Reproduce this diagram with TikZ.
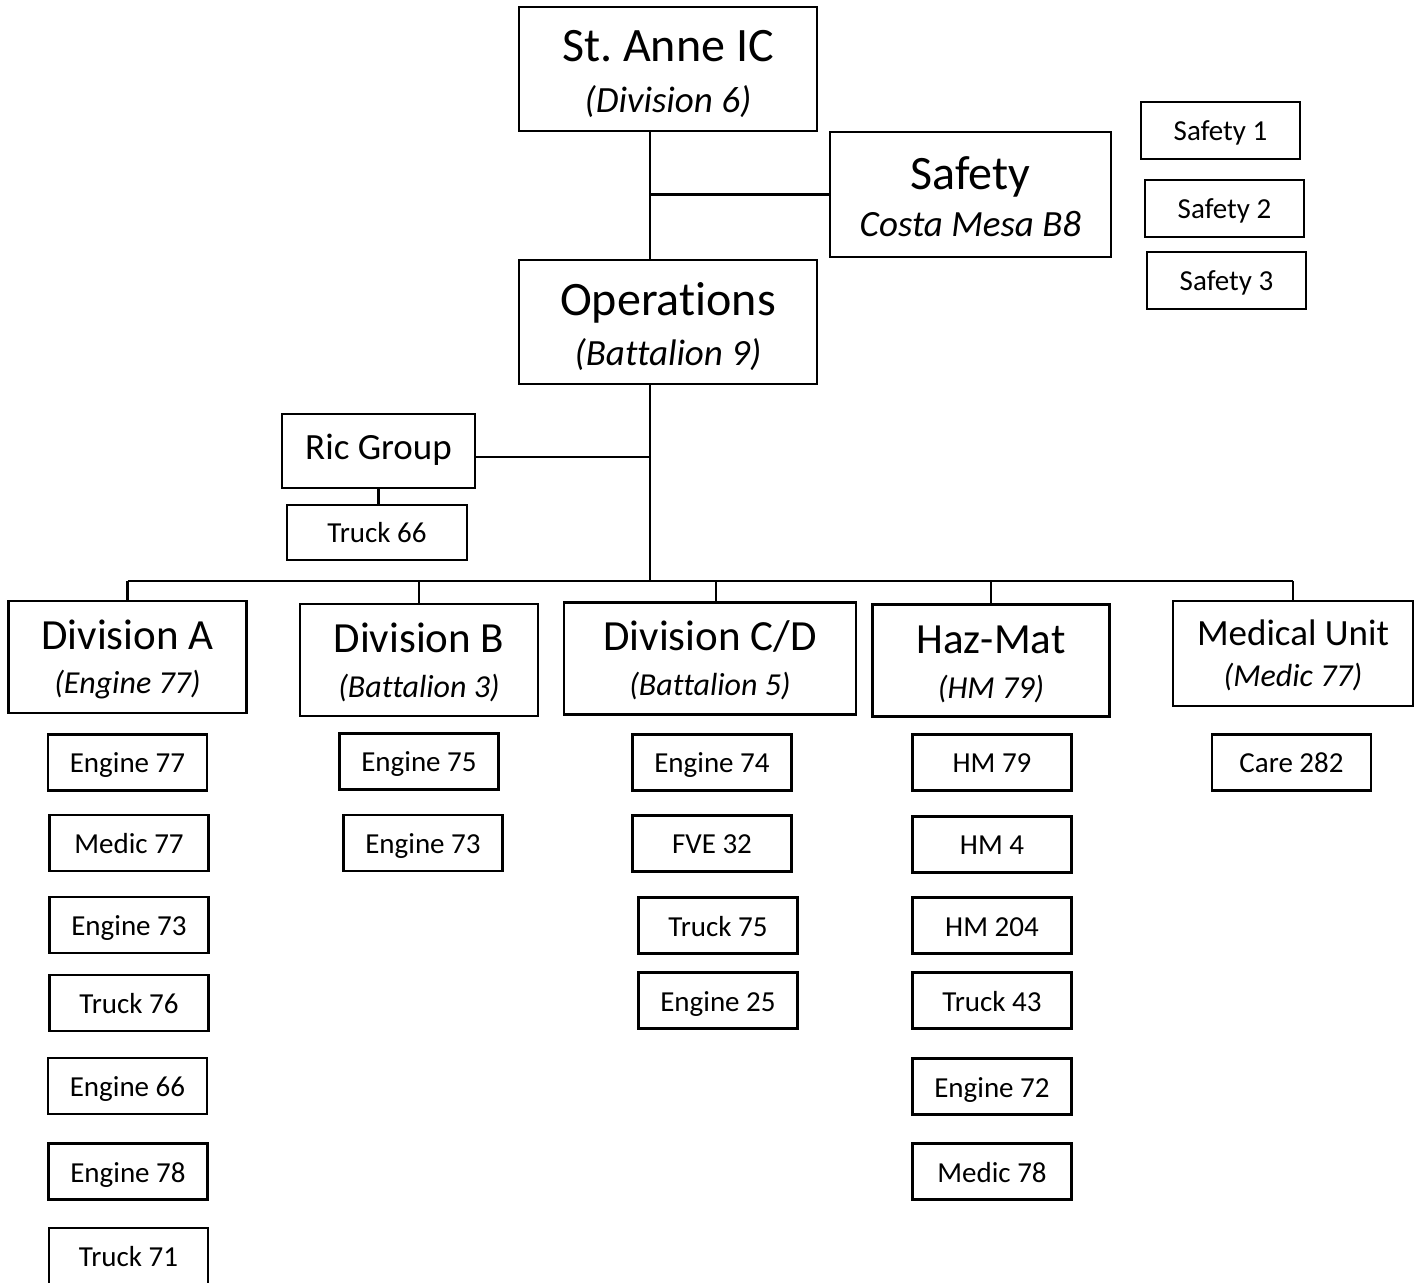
\documentclass[tikz,border=0pt]{standalone}
\usepackage{fontspec}
\setmainfont{Carlito}[Ligatures=NoCommon]
\usetikzlibrary{calc}
\frenchspacing
\newcommand\ztitle{\fontsize{24}{24}\selectfont}
\newcommand\zhead{\fontsize{21.5}{21.5}\selectfont}
\newcommand\zmedhead{\fontsize{18.5}{18.5}\selectfont}
\tikzset{zbox/.style={
  draw=black,
  line width=1.1pt,
  rectangle,
  inner sep=0pt,
  align=center}}
\tikzset{ztop/.style={
  zbox,
  minimum width=149pt,
  minimum height=62pt,
  font=\fontsize{18.5}{25.5}\selectfont,
  text height=43.5pt,
  text depth=0pt}}
\tikzset{zdiv/.style={
  zbox,
  minimum width=119pt,
  minimum height=56pt,
  font=\fontsize{16}{22.5}\selectfont,
  text height=37.5pt,
  text depth=0pt}}
\tikzset{zunit/.style={
  zbox,
  minimum width=79.5pt,
  minimum height=28pt,
  font=\fontsize{14.5}{17}\selectfont,
  text height=13.5pt,
  text depth=3pt}}
\tikzset{zline/.style={
  line width=1.1pt}}

\begin{document}
\begin{tikzpicture}
  \begin{scope}[x=0.5pt,y=-0.5pt]
    \useasboundingbox (0,0) rectangle (1421,1283);

    %% Command staff
    \node[ztop] (ic) at (668,69) {{\ztitle St. Anne IC}\\\itshape (Division 6)};
    \node[ztop,minimum width=140.5pt,minimum height=62.5pt,text height=42.5pt,
      font=\fontsize{18.5}{23.5}\selectfont] (safety) at (970.5,194.5)
      {{\ztitle Safety}\\\itshape Costa Mesa B8};
    \node[ztop,font=\fontsize{18.5}{25}\selectfont] (ops) at (668,322)
      {{\ztitle Operations}\\\itshape (Battalion 9)};

    %% Safety officers
    \node[zunit,minimum height=28.5pt] (s-1) at (1220.5,130.5) {Safety 1};
    \node[zunit,minimum height=28.5pt] (s-2) at (1224.5,208.5) {Safety 2};
    \node[zunit,minimum height=28.5pt] (s-3) at (1226.5,280.5) {Safety 3};

    %% Rapid intervention
    \node[zbox,minimum width=96.5pt,minimum height=37pt,
      font=\fontsize{18.5}{18.5}\selectfont,
      text height=14pt,text depth=5pt] (ric) at (378.5,451) {Ric Group};
    \node[zunit,minimum width=90pt,minimum height=27.5pt] (truck66) at (377,532.5) {Truck 66};

    %% Divisions and groups
    \node[zdiv,text height=37pt,font=\fontsize{16}{22}\selectfont] (diva) at (127.5,657)
      {{\zhead Division A}\\\itshape (Engine 77)};
    \node[zdiv,text height=38pt] (divb) at (419,660) {{\zhead Division B}\\\itshape (Battalion 3)};
    \node[zdiv,minimum width=146pt] (divcd) at (710,658.5)
      {{\zhead Division C/D}\\\itshape (Battalion 5)};
    \node[zdiv,minimum width=118.5pt,text height=38.5pt] (haz) at (991,660.5)
      {{\zhead Haz-Mat}\\\itshape (HM 79)};
    \node[zdiv,minimum width=120pt,minimum height=52.5pt,text height=33.5pt,
      font=\fontsize{16}{20.75}\selectfont] (med) at (1293,653.5)
      {{\zmedhead Medical Unit}\\\itshape (Medic 77)};

    %% Assigned units
    \foreach \n/\x/\y/\t in {1/127.5/762.5/Engine 77,2/129/843/Medic 77,
      3/129/925/Engine 73,4/129/1003/Truck 76,5/127.5/1086/Engine 66,
      6/128/1171.5/Engine 78,7/128.5/1256/Truck 71}{
      \node[zunit] (a-\n) at (\x,\y) {\t};
    }
    \foreach \n/\x/\y/\t in {1/419/761.5/Engine 75,2/423/843/Engine 73}{
      \node[zunit] (b-\n) at (\x,\y) {\t};
    }
    \foreach \n/\x/\y/\t in {1/712/762.5/Engine 74,2/712/843.5/FVE 32,
      3/718/925.5/Truck 75,4/718/1000.5/Engine 25}{
      \node[zunit] (cd-\n) at (\x,\y) {\t};
    }
    \foreach \n/\y/\t in {1/762.5/HM 79,2/844.5/HM 4,3/925.5/HM 204,
      4/1000.5/Truck 43,5/1086.5/Engine 72,6/1171.5/Medic 78}{
      \node[zunit] (hm-\n) at (992,\y) {\t};
    }
    \node[zunit] (care) at (1291.5,762.5) {Care 282};

    %% Connectors
    \coordinate (spine) at (650,581);
    \draw[zline] (ic.south -| spine) -- (ops.north -| spine);
    \draw[zline] (safety.west) -- (safety.west -| spine);
    \draw[zline] (ops.south -| spine) -- (spine);
    \draw[zline] ([yshift=-3pt]ric.east) -- ([yshift=-3pt]ric.east -| spine);
    \draw[zline] (ric.south) -- (ric.south |- truck66.north);
    \draw[zline] (diva.north |- spine) -- (med.north |- spine);
    \foreach \d in {diva,divb,haz,med}{
      \draw[zline] (\d.north) -- (\d.north |- spine);
    }
    \draw[zline] ([xshift=3pt]divcd.north) -- ([xshift=3pt]divcd.north |- spine);
  \end{scope}
\end{tikzpicture}
\end{document}
